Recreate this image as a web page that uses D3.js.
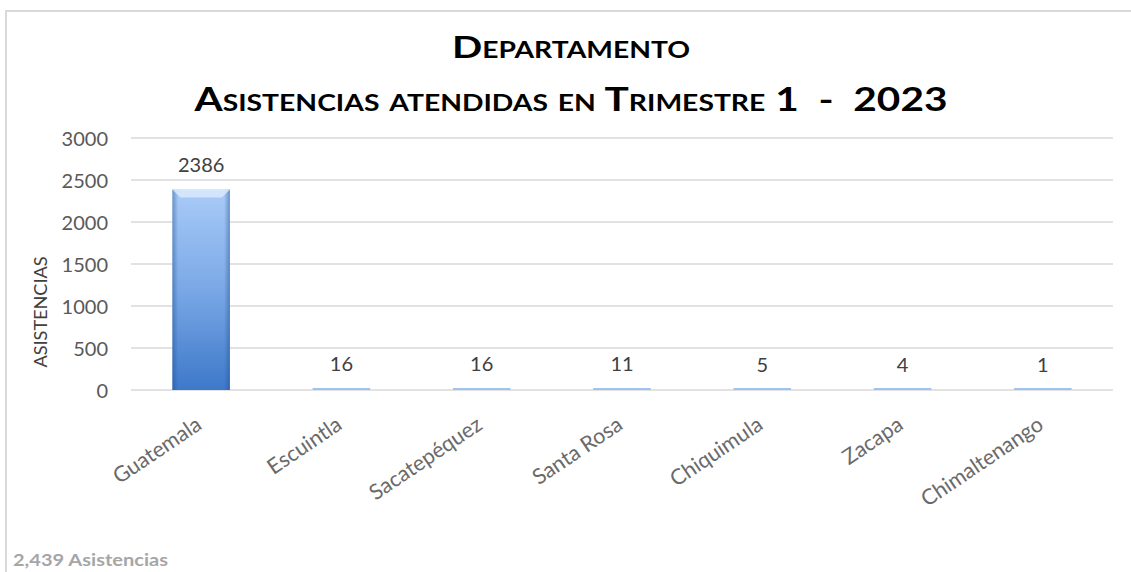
<!DOCTYPE html>
<html><head><meta charset="utf-8">
<script src="https://cdn.jsdelivr.net/npm/d3@7"></script>
<style>body{margin:0;background:#fff}svg{display:block}text{font-family:Lato,"Open Sans",sans-serif}</style>
</head><body><svg id="c" width="1131" height="572"></svg>
<script>
const categories = ["Guatemala","Escuintla","Sacatepéquez","Santa Rosa","Chiquimula","Zacapa","Chimaltenango"];
const values = [2386,16,16,11,5,4,1];
const yTicks = [0,500,1000,1500,2000,2500,3000];
const titleLines = ["Departamento","Asistencias atendidas en Trimestre 1  -  2023"];
const yTitle = "ASISTENCIAS";
const footer = "2,439 Asistencias";

const svg = d3.select("#c");
const M = {left:131, right:1113, top:138, bottom:390};

// chart border
svg.append("rect").attr("x",6).attr("y",11).attr("width",1140).attr("height",600)
  .attr("fill","#fff").attr("stroke","#d9d9d9").attr("stroke-width",2);

const x = d3.scaleBand().domain(categories).range([M.left,M.right]).paddingInner(0.59).paddingOuter(0.295);
const y = d3.scaleLinear().domain([0,3000]).range([M.bottom,M.top]);

// gridlines
svg.append("g").selectAll("line").data(yTicks).join("line")
  .attr("x1",M.left).attr("x2",M.right).attr("y1",d=>y(d)).attr("y2",d=>y(d))
  .attr("stroke","#d9d9d9").attr("stroke-width",1.5);

// y axis labels
const yAxis = d3.axisLeft(y).tickValues(yTicks).tickFormat(d3.format("d")).tickSize(0).tickPadding(0);
const gy = svg.append("g").attr("transform",`translate(108,0)`).call(yAxis);
gy.select(".domain").remove();
gy.selectAll("text").attr("font-size",20).attr("fill","#595959").attr("dy","0.35em").attr("font-family","Lato");

// gradients
const defs = svg.append("defs");
const gv = defs.append("linearGradient").attr("id","gv").attr("x1",0).attr("y1",0).attr("x2",0).attr("y2",1);
gv.append("stop").attr("offset","0%").attr("stop-color","#a9cbf8");
gv.append("stop").attr("offset","50%").attr("stop-color","#7aa8e6");
gv.append("stop").attr("offset","100%").attr("stop-color","#3d78c9");
const gh = defs.append("linearGradient").attr("id","gh").attr("x1",0).attr("y1",0).attr("x2",1).attr("y2",0);
gh.append("stop").attr("offset","0%").attr("stop-color","#1f4f8f").attr("stop-opacity",0.45);
gh.append("stop").attr("offset","10%").attr("stop-color","#1f4f8f").attr("stop-opacity",0.0);
gh.append("stop").attr("offset","90%").attr("stop-color","#1f4f8f").attr("stop-opacity",0.0);
gh.append("stop").attr("offset","100%").attr("stop-color","#1f4f8f").attr("stop-opacity",0.45);

const data = categories.map((c,i)=>({c,v:values[i]}));
const bars = svg.append("g").selectAll("g").data(data).join("g");
bars.append("rect")
  .attr("x",d=>x(d.c)).attr("width",x.bandwidth())
  .attr("y",d=>Math.min(y(d.v), y(0)-2)).attr("height",d=>Math.max(y(0)-y(d.v),2))
  .attr("fill",d=> (y(0)-y(d.v))>10 ? "url(#gv)" : "#9fc2ee");
bars.filter(d=>(y(0)-y(d.v))>10).append("rect")
  .attr("x",d=>x(d.c)).attr("width",x.bandwidth())
  .attr("y",d=>y(d.v)).attr("height",d=>y(0)-y(d.v))
  .attr("fill","url(#gh)");
bars.filter(d=>(y(0)-y(d.v))>10).append("polygon")
  .attr("points",d=>{const x0=x(d.c),x1=x0+x.bandwidth(),t=y(d.v),b=8;
    return `${x0},${t} ${x1},${t} ${x1-b},${t+b} ${x0+b},${t+b}`;})
  .attr("fill","#dbeafd").attr("opacity",0.85);

// value labels
svg.append("g").selectAll("text").data(data).join("text")
  .attr("x",d=>x(d.c)+x.bandwidth()/2).attr("y",d=>y(d.v)-18)
  .attr("text-anchor","middle").attr("font-size",20).attr("fill","#404040")
  .text(d=>d.v);

// x labels
svg.append("g").selectAll("text").data(categories).join("text")
  .attr("transform",d=>`translate(${x(d)+x.bandwidth()/2+2},${428}) rotate(-34)`)
  .attr("text-anchor","end").attr("font-size",21.5).attr("fill","#6a6a6a")
  .text(d=>d);

// y title
svg.append("text").attr("transform","translate(47,312) rotate(-90)")
  .attr("text-anchor","middle").attr("font-size",17).attr("fill","#404040")
  .attr("textLength",111).attr("lengthAdjust","spacingAndGlyphs").text(yTitle);

// titles
svg.append("text").attr("x",571).attr("y",58).attr("text-anchor","middle")
  .attr("font-size",31).attr("font-weight",700).attr("fill","#000")
  .style("font-variant","small-caps")
  .attr("textLength",238).attr("lengthAdjust","spacingAndGlyphs").text(titleLines[0]);
svg.append("text").attr("x",571).attr("y",111).attr("text-anchor","middle")
  .attr("font-size",33).attr("font-weight",700).attr("fill","#000")
  .style("font-variant","small-caps").style("white-space","pre")
  .attr("textLength",753).attr("lengthAdjust","spacingAndGlyphs").text(titleLines[1]);

// footer
svg.append("text").attr("x",13).attr("y",566).attr("font-size",17).attr("font-weight",700)
  .attr("fill","#a6a6a6").attr("textLength",155).attr("lengthAdjust","spacingAndGlyphs").text(footer);
</script></body></html>
